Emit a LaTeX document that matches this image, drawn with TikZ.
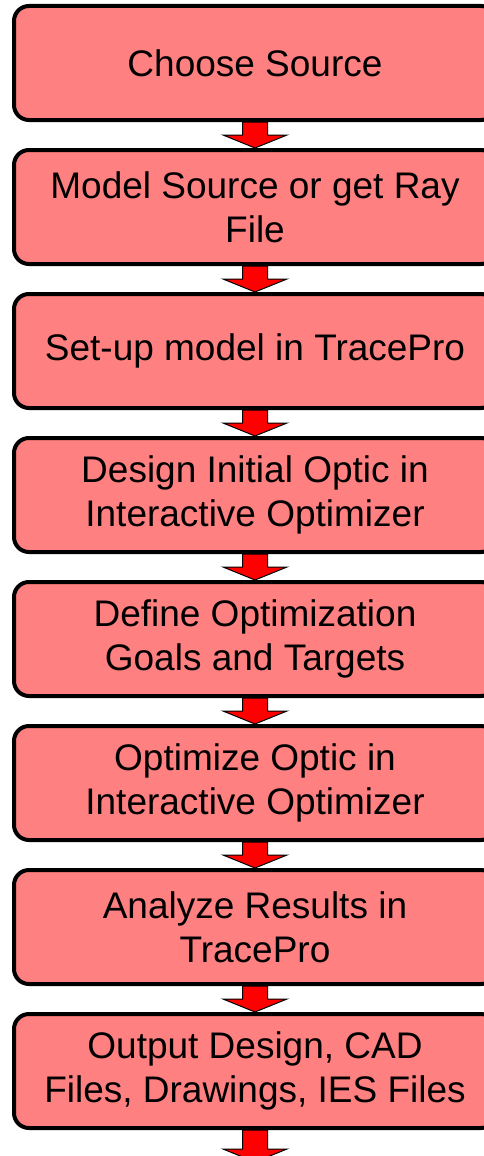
\documentclass[tikz,border=0pt]{standalone}
\usepackage{fontspec}
\setmainfont{Liberation Sans}
\usetikzlibrary{positioning,calc}
\definecolor{stepred}{HTML}{FF8080}
\definecolor{arrowred}{HTML}{FF0000}
\tikzset{
  stepbox/.style={draw=black, line width=4pt, fill=stepred, rounded corners=15pt,
    minimum width=482pt, minimum height=114pt, inner sep=0pt, align=center,
    font=\fontsize{37}{44}\selectfont},
  arrowshape/.style={draw=black, line width=1pt, fill=arrowred, line join=miter}
}
% fat block arrow from one anchor to another
\newcommand{\fatarrow}[2]{%
  \draw[arrowshape] let \p1=(#1), \p2=(#2) in
    (\x1-12.5pt,\y1) -- (\x1+12.5pt,\y1) -- (\x1+12.5pt,\y2+13pt)
    -- (\x1+32pt,\y2+13pt) -- (\x1,\y2) -- (\x1-32pt,\y2+13pt)
    -- (\x1-12.5pt,\y2+13pt) -- cycle;%
}
\begin{document}
\begin{tikzpicture}[x=1pt, y=1pt, node distance=26pt]

\useasboundingbox (0,0) rectangle (483,-1156);

\node[stepbox] (source) at (255,-63) {Choose Source};
\node[stepbox, below=of source] (model) {Model Source or get Ray\\File};
\node[stepbox, below=of model] (setup) {Set-up model in TracePro};
\node[stepbox, below=of setup] (design) {Design Initial Optic in\\Interactive Optimizer};
\node[stepbox, below=of design] (goals) {Define Optimization\\Goals and Targets};
\node[stepbox, below=of goals] (optimize) {Optimize Optic in\\Interactive Optimizer};
\node[stepbox, below=of optimize] (analyze) {Analyze Results in\\TracePro};
\node[stepbox, below=of analyze] (output) {Output Design, CAD\\Files, Drawings, IES Files};
\coordinate[below=32pt of output] (end);

\fatarrow{source.south}{model.north}
\fatarrow{model.south}{setup.north}
\fatarrow{setup.south}{design.north}
\fatarrow{design.south}{goals.north}
\fatarrow{goals.south}{optimize.north}
\fatarrow{optimize.south}{analyze.north}
\fatarrow{analyze.south}{output.north}
\fatarrow{output.south}{end}

\end{tikzpicture}
\end{document}
